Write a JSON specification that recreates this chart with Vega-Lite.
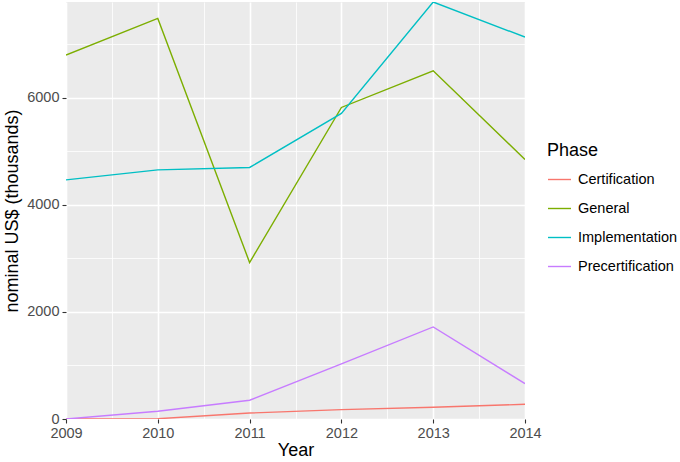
{
  "$schema": "https://vega.github.io/schema/vega-lite/v6.json",
  "width": 459,
  "height": 417,
  "autosize": {"type": "none"},
  "padding": {"left": 66, "top": 2, "right": 155, "bottom": 43},
  "background": "white",
  "config": {
    "font": "Liberation Sans",
    "view": {"fill": "#EBEBEB", "stroke": null},
    "axis": {
      "domain": false,
      "gridColor": "white",
      "tickColor": "#333333",
      "tickSize": 4,
      "tickWidth": 1.1,
      "labelColor": "#4D4D4D",
      "labelFontSize": 14.5,
      "labelFont": "Liberation Sans",
      "titleFont": "Liberation Sans",
      "titleFontSize": 18,
      "titleFontWeight": "normal",
      "titleColor": "black",
      "labelOverlap": false,
      "labelFlush": false,
      "labelBound": false
    },
    "legend": {
      "titleFont": "Liberation Sans",
      "labelFont": "Liberation Sans"
    }
  },
  "data": {
    "values": [
      {"Year": 2009, "Phase": "Certification", "Value": 0},
      {"Year": 2010, "Phase": "Certification", "Value": 5},
      {"Year": 2011, "Phase": "Certification", "Value": 112},
      {"Year": 2012, "Phase": "Certification", "Value": 175},
      {"Year": 2013, "Phase": "Certification", "Value": 219},
      {"Year": 2014, "Phase": "Certification", "Value": 275},
      {"Year": 2009, "Phase": "General", "Value": 6798},
      {"Year": 2010, "Phase": "General", "Value": 7484},
      {"Year": 2011, "Phase": "General", "Value": 2923},
      {"Year": 2012, "Phase": "General", "Value": 5820},
      {"Year": 2013, "Phase": "General", "Value": 6505},
      {"Year": 2014, "Phase": "General", "Value": 4849},
      {"Year": 2009, "Phase": "Implementation", "Value": 4467},
      {"Year": 2010, "Phase": "Implementation", "Value": 4654},
      {"Year": 2011, "Phase": "Implementation", "Value": 4699},
      {"Year": 2012, "Phase": "Implementation", "Value": 5708},
      {"Year": 2013, "Phase": "Implementation", "Value": 7790},
      {"Year": 2014, "Phase": "Implementation", "Value": 7134},
      {"Year": 2009, "Phase": "Precertification", "Value": 0},
      {"Year": 2010, "Phase": "Precertification", "Value": 144},
      {"Year": 2011, "Phase": "Precertification", "Value": 350},
      {"Year": 2012, "Phase": "Precertification", "Value": 1028},
      {"Year": 2013, "Phase": "Precertification", "Value": 1720},
      {"Year": 2014, "Phase": "Precertification", "Value": 662}
    ]
  },
  "mark": {"type": "line", "strokeWidth": 1.4, "clip": true},
  "encoding": {
    "x": {
      "field": "Year",
      "type": "quantitative",
      "title": "Year",
      "scale": {"domain": [2009, 2014], "nice": false, "zero": false},
      "axis": {
        "values": [2009, 2009.5, 2010, 2010.5, 2011, 2011.5, 2012, 2012.5, 2013, 2013.5, 2014],
        "labelExpr": "datum.value % 1 === 0 ? format(datum.value, 'd') : ''",
        "gridWidth": {"condition": {"test": "datum.value % 1 === 0", "value": 1.6}, "value": 0.8},
        "tickOpacity": {"condition": {"test": "datum.value % 1 === 0", "value": 1}, "value": 0},
        "labelPadding": 3,
        "titlePadding": 2
      }
    },
    "y": {
      "field": "Value",
      "type": "quantitative",
      "title": "nominal US$ (thousands)",
      "scale": {"domain": [0, 7790], "nice": false},
      "axis": {
        "values": [0, 1000, 2000, 3000, 4000, 5000, 6000, 7000],
        "labelExpr": "datum.value % 2000 === 0 ? format(datum.value, 'd') : ''",
        "gridWidth": {"condition": {"test": "datum.value % 2000 === 0", "value": 1.6}, "value": 0.8},
        "tickOpacity": {"condition": {"test": "datum.value % 2000 === 0", "value": 1}, "value": 0},
        "labelPadding": 3,
        "titlePadding": 5
      }
    },
    "color": {
      "field": "Phase",
      "type": "nominal",
      "scale": {
        "domain": ["Certification", "General", "Implementation", "Precertification"],
        "range": ["#F8766D", "#7CAE00", "#00BFC4", "#C77CFF"]
      },
      "legend": {
        "orient": "none",
        "legendX": 481,
        "legendY": 140,
        "title": "Phase",
        "titleFontSize": 18,
        "titleFontWeight": "normal",
        "titleColor": "black",
        "titlePadding": 7,
        "labelFontSize": 14.5,
        "labelColor": "black",
        "labelOffset": 6,
        "symbolType": "stroke",
        "symbolSize": 529,
        "symbolStrokeWidth": 1.4,
        "rowPadding": 10
      }
    }
  }
}
